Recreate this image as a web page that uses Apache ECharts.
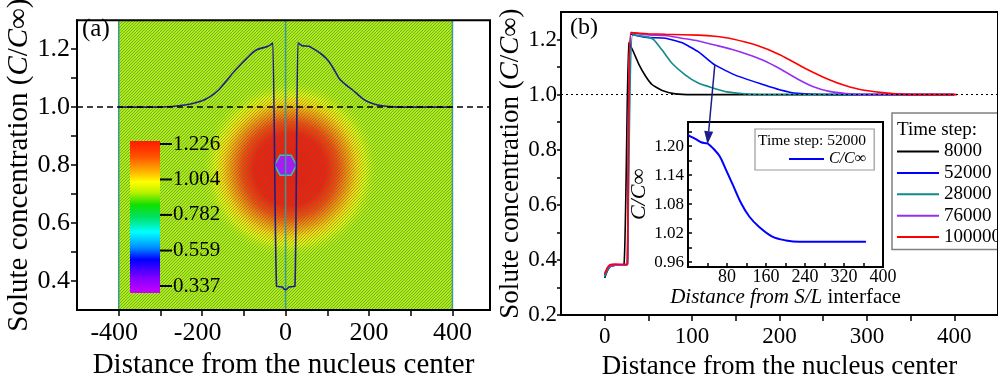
<!DOCTYPE html>
<html>
<head>
<meta charset="utf-8">
<script src="https://cdn.jsdelivr.net/npm/echarts@6/dist/echarts.min.js"></script>
<style>
  html, body { margin: 0; background: #fff; }
  #chart { width: 998px; height: 385px; }
</style>
</head>
<body>
<div id="chart"></div>
<script>
const fontFamily = "'Liberation Serif', 'Times New Roman', serif";

// panel (a): concentration profile through the nucleus
const profileA = [
  [-400, 1.0], [-300, 1.0], [-256, 1.005], [-230, 1.01], [-200, 1.022], [-180, 1.037],
  [-160, 1.06], [-145, 1.085], [-128, 1.115], [-112, 1.14], [-96, 1.164], [-82, 1.184],
  [-68, 1.199], [-48, 1.207], [-38, 1.213], [-30.5, 1.222], [-21.7, 0.382], [-8, 0.38],
  [-3, 0.372], [0, 0.37], [3, 0.372], [8, 0.38], [22.4, 0.382], [29.6, 1.222], [40, 1.212],
  [56, 1.21], [68, 1.2], [84, 1.185], [100, 1.164], [114, 1.135], [128, 1.1], [144, 1.078],
  [160, 1.06], [176, 1.04], [192.5, 1.022], [210, 1.012], [232, 1.005], [260, 1.001],
  [300, 1.0], [400, 1.0]
];
const fieldRange = [-400, 400];
const fieldLines = [-400, 0, 400];
const blobCenter = [10, 0.785];
const nucleusCenter = [0, 0.8];
const colorbarLabels = ['1.226', '1.004', '0.782', '0.559', '0.337'];
const colorbarValues = [1.226, 1.004, 0.782, 0.559, 0.337];

// panel (b): profiles at several time steps
const timeSteps = ['8000', '52000', '28000', '76000', '100000'];
const stepColors = ['#000000', '#0000ff', '#128a8a', '#9530f0', '#ff0000'];
const s8000 = [
  [0, 0.335], [3, 0.36], [6, 0.375], [12, 0.381], [22, 0.382], [27.4, 1.189], [31.9, 1.162],
  [39.4, 1.108], [47, 1.066], [54.4, 1.036], [65.7, 1.015], [80.8, 1.003], [100, 1.0], [400, 1.0]
];
const s52000 = [
  [0, 0.345], [3, 0.365], [6, 0.377], [12, 0.381], [24, 0.382], [26, 0.385], [30, 1.22],
  [40, 1.212], [50.7, 1.207], [69.5, 1.205], [88, 1.189], [107, 1.156], [126, 1.108],
  [150, 1.07], [182, 1.036], [200, 1.018], [220, 1.005], [260, 1.0], [400, 1.0]
];
const s28000 = [
  [0, 0.34], [3, 0.362], [6, 0.376], [12, 0.381], [24, 0.382], [26, 0.385], [31.9, 1.217],
  [50.7, 1.208], [56.3, 1.199], [65.7, 1.162], [77, 1.114], [92, 1.072], [107, 1.042],
  [122, 1.026], [140, 1.01], [163, 1.002], [200, 1.0], [400, 1.0]
];
const s76000 = [
  [0, 0.35], [3, 0.368], [6, 0.378], [12, 0.381], [24, 0.382], [26, 0.385], [30, 1.225],
  [50, 1.217], [69.5, 1.215], [88, 1.205], [107, 1.195], [126, 1.18], [145, 1.165],
  [163, 1.147], [182, 1.124], [201, 1.093], [220, 1.058], [238, 1.03], [257, 1.012],
  [276, 1.004], [295, 1.0], [400, 1.0]
];
const s100000 = [
  [0, 0.35], [3, 0.372], [6, 0.383], [12, 0.385], [24, 0.384], [26, 0.385], [30, 1.225],
  [50, 1.221], [69.5, 1.219], [107, 1.216], [126, 1.212], [145, 1.203], [173, 1.18],
  [201, 1.144], [229, 1.096], [257, 1.054], [276, 1.032], [295, 1.017], [332, 1.003],
  [360, 1.0], [403, 1.0]
];
const stepSeries = [s8000, s52000, s28000, s76000, s100000];

// inset: time step 52000 ahead of the S/L interface
const inset52000 = [
  [0, 1.224], [2, 1.222], [17, 1.214], [27, 1.208], [37, 1.206], [41, 1.205], [51, 1.196],
  [65, 1.179], [78, 1.151], [92, 1.12], [109, 1.082], [126, 1.054], [146, 1.033],
  [173, 1.013], [201, 1.005], [228, 1.002], [260, 1.002], [365, 1.002]
];
const arrowFrom = [126, 1.108];
const arrowTo = [40, 1.204];

// ticks and labels
const aXTicks = [-400, -300, -200, -100, 0, 100, 200, 300, 400];
const aXLabels = [-400, -200, 0, 200, 400];
const aYTicks = [0.4, 0.5, 0.6, 0.7, 0.8, 0.9, 1.0, 1.1, 1.2];
const aYLabels = [0.4, 0.6, 0.8, 1.0, 1.2];
const bXTicks = [0, 50, 100, 150, 200, 250, 300, 350, 400];
const bXLabels = [0, 100, 200, 300, 400];
const bYTicks = [0.2, 0.3, 0.4, 0.5, 0.6, 0.7, 0.8, 0.9, 1.0, 1.1, 1.2];
const bYLabels = [0.2, 0.4, 0.6, 0.8, 1.0, 1.2];
const inXTicks = [40, 80, 120, 160, 200, 240, 280, 320, 360];
const inXLabels = [80, 160, 240, 320, 400];
const inYTicks = [0.96, 0.99, 1.02, 1.05, 1.08, 1.11, 1.14, 1.17, 1.2, 1.23];
const inYLabels = [0.96, 1.02, 1.08, 1.14, 1.2];

// hatch pattern of the contour image
const hatch = document.createElement('canvas');
hatch.width = hatch.height = 3;
const hc = hatch.getContext('2d');
hc.strokeStyle = 'rgba(40,115,125,0.5)';
hc.lineWidth = 1;
hc.beginPath();
hc.moveTo(0, 3); hc.lineTo(3, 0);
hc.moveTo(-1, 1); hc.lineTo(1, -1);
hc.moveTo(2, 4); hc.lineTo(4, 2);
hc.stroke();

const italic = { fontStyle: 'italic', fontFamily };

function axis(o) {
  return {
    type: 'value', gridIndex: o.grid, min: o.min, max: o.max, position: o.position, z: o.z || 10,
    axisLine: { show: true, onZero: false, lineStyle: { color: '#000', width: 2 } },
    axisTick: {
      show: true, inside: !!o.inside, length: o.tickLen || 6, customValues: o.ticks,
      lineStyle: { color: '#000', width: 1.5 }
    },
    axisLabel: {
      customValues: o.labels, fontSize: o.fontSize, margin: o.margin, color: '#000',
      fontFamily, formatter: o.formatter, rich: o.rich
    },
    splitLine: { show: false },
    name: o.name, nameLocation: 'middle', nameGap: o.nameGap, nameRotate: o.nameRotate,
    nameTextStyle: {
      fontSize: o.nameSize, color: '#000', fontFamily,
      rich: { i: Object.assign({ fontSize: o.nameSize, color: '#000' }, italic) }
    }
  };
}

const chart = echarts.init(document.getElementById('chart'));

chart.setOption({
  animation: false,
  grid: [
    { left: 77, top: 12, width: 413, height: 305, show: true, borderColor: '#000', borderWidth: 2, backgroundColor: 'transparent', z: 10 },
    { left: 561, top: 12, width: 444, height: 304, show: true, borderColor: '#000', borderWidth: 2, backgroundColor: 'transparent', z: 10 },
    { left: 688, top: 122, width: 195, height: 145, show: true, borderColor: '#000', borderWidth: 2, backgroundColor: '#fff', z: 10 }
  ],
  xAxis: [
    axis({
      grid: 0, min: -500, max: 490, position: 'bottom', ticks: aXTicks, labels: aXLabels,
      fontSize: 26, margin: 10,
      formatter: v => (v < 0 ? '{n|' + v + '}' : String(v)),
      rich: { n: { fontSize: 26, fontFamily, color: '#000', padding: [0, 9, 0, 0] } },
      name: 'Distance from the nucleus center', nameGap: 36, nameSize: 29
    }),
    axis({
      grid: 1, min: -50, max: 450, position: 'bottom', ticks: bXTicks, labels: bXLabels,
      fontSize: 23, margin: 10,
      name: 'Distance from the nucleus center', nameGap: 35, nameSize: 27
    }),
    axis({
      grid: 2, min: 0, max: 400, position: 'bottom', ticks: inXTicks, labels: inXLabels,
      inside: true, tickLen: 4, fontSize: 18, margin: 1, z: 12,
      name: '{i|Distance from S/L} interface', nameGap: 13, nameSize: 21
    })
  ],
  yAxis: [
    axis({
      grid: 0, min: 0.3, max: 1.3, position: 'left', ticks: aYTicks, labels: aYLabels,
      fontSize: 26, margin: 7, formatter: v => v.toFixed(1),
      name: 'Solute concentration ({i|C}/{i|C}∞)', nameGap: 37, nameSize: 29
    }),
    axis({
      grid: 1, min: 0.2, max: 1.3, position: 'left', ticks: bYTicks, labels: bYLabels,
      fontSize: 23, margin: 4, tickLen: 4, formatter: v => v.toFixed(1),
      name: 'Solute concentration ({i|C}/{i|C}∞)', nameGap: 31, nameSize: 27
    }),
    axis({
      grid: 2, min: 0.95, max: 1.25, position: 'left', ticks: inYTicks, labels: inYLabels,
      inside: true, tickLen: 4, fontSize: 17, margin: 4, z: 12, formatter: v => v.toFixed(2),
      name: '{i|C/C∞}', nameGap: 29, nameSize: 22
    })
  ],
  legend: [
    {
      data: timeSteps, orient: 'vertical', left: 892, top: 113,
      itemStyle: { opacity: 0 },
      padding: [29, 10, 3, 4], itemWidth: 42, itemHeight: 10, itemGap: 2.4,
      borderColor: '#808080', borderWidth: 1.5, backgroundColor: '#fff',
      textStyle: { fontSize: 19, lineHeight: 19, color: '#000', fontFamily }
    },
    {
      data: ['C/C∞'], orient: 'vertical', left: 755, top: 129, z: 15,
      itemStyle: { opacity: 0 },
      padding: [22, 8, 3, 33], itemWidth: 35, itemHeight: 10,
      borderColor: '#999', borderWidth: 1.2, backgroundColor: '#fff',
      textStyle: { fontSize: 16, color: '#000', fontFamily, fontStyle: 'italic' }
    }
  ],
  series: [
    {
      type: 'custom', xAxisIndex: 0, yAxisIndex: 0, z: 1, silent: true, clip: true,
      data: [fieldRange],
      renderItem(params, api) {
        const cs = params.coordSys;
        const x0 = api.coord([api.value(0), 1])[0];
        const x1 = api.coord([api.value(1), 1])[0];
        const c = api.coord(blobCenter);
        const n = api.coord(nucleusCenter);
        const hex = [[-11, 0], [-5.5, -10], [5.5, -10], [11, 0], [5.5, 10], [-5.5, 10]]
          .map(p => [n[0] + p[0], n[1] + p[1]]);
        const rect = { x: x0, y: cs.y, width: x1 - x0, height: cs.height };
        const children = [
          { type: 'rect', shape: rect, style: { fill: '#b2ec08' } },
          {
            type: 'circle', shape: { cx: c[0], cy: c[1], r: 90 },
            style: {
              fill: new echarts.graphic.RadialGradient(0.5, 0.5, 0.5, [
                { offset: 0, color: '#ff1400' },
                { offset: 0.4, color: '#ff1c00' },
                { offset: 0.53, color: '#ff4800' },
                { offset: 0.64, color: '#ff9000' },
                { offset: 0.75, color: '#ffd800' },
                { offset: 0.84, color: 'rgba(236,246,0,0.85)' },
                { offset: 1, color: 'rgba(178,236,8,0)' }
              ])
            }
          },
          { type: 'rect', shape: rect, style: { fill: { image: hatch, repeat: 'repeat' } } },
          { type: 'polygon', shape: { points: hex }, style: { fill: '#a41ef0', stroke: '#3cc0a8', lineWidth: 1.5 } }
        ];
        fieldLines.forEach(v => {
          const x = api.coord([v, 1])[0];
          children.push({
            type: 'line', shape: { x1: x, y1: cs.y, x2: x, y2: cs.y + cs.height },
            style: { stroke: '#3a9a98', lineWidth: 1.5 }
          });
        });
        return { type: 'group', children };
      }
    },
    {
      type: 'line', xAxisIndex: 0, yAxisIndex: 0, z: 3, data: profileA, symbol: 'none',
      smooth: 0.15,
      lineStyle: { color: '#1e1e86', width: 1.6 }, silent: true,
      markLine: {
        silent: true, symbol: ['none', 'none'], label: { show: false },
        lineStyle: { color: '#000', type: [6, 4], width: 1.5 },
        data: [{ yAxis: 1 }]
      }
    },
    ...timeSteps.map((name, i) => ({
      name, type: 'line', xAxisIndex: 1, yAxisIndex: 1, z: 3, data: stepSeries[i],
      symbol: 'none', smooth: 0.15,
      color: stepColors[i], lineStyle: { color: stepColors[i], width: 1.6 },
      markLine: i === 0 ? {
        silent: true, symbol: ['none', 'none'], label: { show: false },
        lineStyle: { color: '#000', type: [2, 3], width: 1.2 },
        data: [{ yAxis: 1 }]
      } : undefined
    })),
    {
      name: 'C/C∞', type: 'line', xAxisIndex: 2, yAxisIndex: 2, z: 12, data: inset52000,
      symbol: 'none', smooth: 0.35,
      color: '#0000ff', lineStyle: { color: '#0000ff', width: 2 },
      markLine: {
        silent: true, symbol: ['none', 'none'], label: { show: false },
        lineStyle: { color: '#000', type: [5, 4], width: 1.5 },
        data: [{ yAxis: 1 }]
      }
    }
  ]
});

// colorbar, panel labels and the arrow linking the main plot to the inset
const cbTop = 144, cbBottom = 286, cbMax = colorbarValues[0], cbMin = colorbarValues[4];
const graphics = [
  {
    type: 'rect', z: 20, shape: { x: 130, y: 141, width: 30, height: 152 },
    style: {
      fill: new echarts.graphic.LinearGradient(0, 0, 0, 1, [
        { offset: 0, color: '#ff1a00' },
        { offset: 0.1, color: '#ff5000' },
        { offset: 0.2, color: '#ffb000' },
        { offset: 0.27, color: '#ffff00' },
        { offset: 0.34, color: '#b8f000' },
        { offset: 0.42, color: '#10e000' },
        { offset: 0.5, color: '#00e060' },
        { offset: 0.6, color: '#00ffff' },
        { offset: 0.7, color: '#0090ff' },
        { offset: 0.78, color: '#0000ff' },
        { offset: 0.9, color: '#8000ff' },
        { offset: 1, color: '#c800ff' }
      ])
    }
  },
  { type: 'text', z: 20, left: 82, top: 17, style: { text: '(a)', fontSize: 25, fontFamily, fill: '#000' } },
  { type: 'text', z: 20, left: 570, top: 16, style: { text: '(b)', fontSize: 24, fontFamily, fill: '#000' } },
  { type: 'text', z: 20, left: 897, top: 121, style: { text: 'Time step:', fontSize: 19, fontFamily, fill: '#000' } },
  { type: 'text', z: 20, left: 758, top: 133, style: { text: 'Time step: 52000', fontSize: 15.5, fontFamily, fill: '#000' } }
];
colorbarLabels.forEach((t, i) => {
  const y = cbTop + (cbMax - colorbarValues[i]) / (cbMax - cbMin) * (cbBottom - cbTop);
  graphics.push({ type: 'line', z: 20, shape: { x1: 160, y1: y, x2: 172, y2: y }, style: { stroke: '#000', lineWidth: 2 } });
  graphics.push({ type: 'text', z: 20, x: 173, y: y, style: { text: t, fontSize: 21, fontFamily, fill: '#000', verticalAlign: 'middle' } });
});
const p0 = chart.convertToPixel({ gridIndex: 1 }, arrowFrom);
const p1 = chart.convertToPixel({ gridIndex: 2 }, arrowTo);
const dx = p1[0] - p0[0], dy = p1[1] - p0[1], len = Math.hypot(dx, dy);
const ux = dx / len, uy = dy / len;
const bx = p1[0] - ux * 13, by = p1[1] - uy * 13;
graphics.push({ type: 'line', z: 20, shape: { x1: p0[0], y1: p0[1], x2: bx, y2: by }, style: { stroke: '#1c1c8c', lineWidth: 1.5 } });
graphics.push({
  type: 'polygon', z: 20,
  shape: { points: [[p1[0], p1[1]], [bx - uy * 4.5, by + ux * 4.5], [bx + uy * 4.5, by - ux * 4.5]] },
  style: { fill: '#1c1c8c' }
});
chart.setOption({ graphic: graphics });
</script>
</body>
</html>
